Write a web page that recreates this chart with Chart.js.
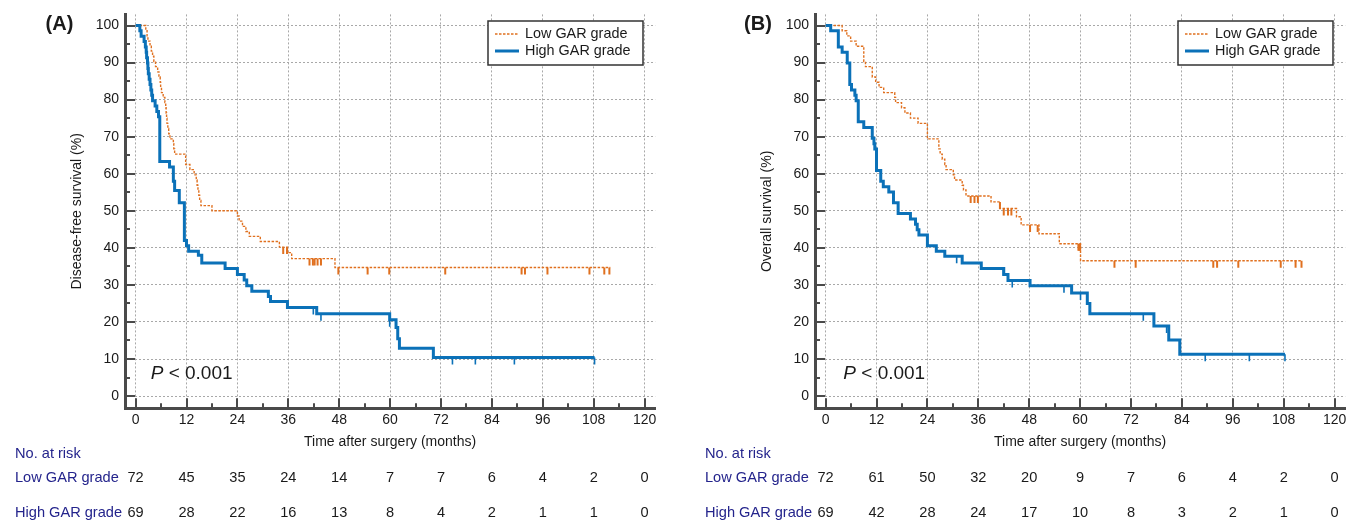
<!DOCTYPE html>
<html lang="en">
<head>
<meta charset="UTF-8" />
<title>GAR grade - survival curves</title>
<script src="https://cdn.jsdelivr.net/npm/chart.js@4.4.1/dist/chart.umd.min.js"></script>
<style>
  body { margin: 0; background: #fff; overflow: hidden; }
  canvas { position: absolute; top: 0; }
</style>
</head>
<body>
<canvas id="chartA" width="670" height="525" style="left:0"></canvas>
<canvas id="chartB" width="669" height="525" style="left:690px"></canvas>

<script>
// axis ticks and risk table columns
const monthTicks = [0, 6, 12, 18, 24, 30, 36, 42, 48, 54, 60, 66, 72, 78, 84, 90, 96, 102, 108, 114, 120];
const pctTicks = [0, 5, 10, 15, 20, 25, 30, 35, 40, 45, 50, 55, 60, 65, 70, 75, 80, 85, 90, 95, 100];
const riskTimes = [0, 12, 24, 36, 48, 60, 72, 84, 96, 108, 120];
const groupNames = ['Low GAR grade', 'High GAR grade'];

// (A) disease-free survival
const dfsLowTime = [0, 2.4, 2.7, 2.9, 3.4, 3.7, 4.0, 4.3, 4.7, 5.2, 5.5, 5.8, 5.9, 6.1, 6.5, 6.9, 7.1, 7.2, 7.3, 7.4, 7.6, 7.8, 8.1, 8.9, 9.0, 9.2, 11.8, 12.8, 13.8, 14.3, 14.5, 14.7, 14.9, 15.1, 15.4, 18.0, 24.0, 24.4, 25.2, 26.0, 26.8, 29.4, 33.9, 35.8, 36.8, 47.0, 111.9];
const dfsLowSurv = [100, 98.6, 97.2, 95.8, 94.4, 93.1, 91.7, 90.3, 88.9, 87.5, 86.1, 84.7, 83.3, 81.9, 80.6, 79.2, 77.8, 76.4, 75.0, 73.6, 72.2, 70.8, 69.4, 68.1, 66.7, 65.3, 62.5, 61.1, 59.7, 58.3, 56.9, 55.6, 54.2, 52.8, 51.4, 50.0, 48.6, 47.2, 45.8, 44.4, 43.1, 41.7, 40.2, 38.7, 37.1, 34.7, 34.7];
const dfsHighTime = [0, 1.0, 1.3, 2.0, 2.3, 2.5, 2.6, 2.8, 2.9, 3.0, 3.2, 3.4, 3.6, 3.8, 4.0, 4.6, 5.0, 5.4, 5.7, 8.0, 8.9, 9.2, 10.3, 11.5, 12.0, 12.5, 14.8, 15.6, 21.1, 24.0, 25.6, 26.2, 27.4, 31.3, 31.8, 35.8, 42.7, 59.9, 61.4, 61.8, 62.2, 70.2, 108.2];
const dfsHighSurv = [100, 98.6, 97.1, 95.7, 94.2, 92.8, 91.3, 89.9, 88.4, 87.0, 85.5, 84.1, 82.6, 81.2, 79.7, 78.3, 76.8, 75.4, 63.3, 61.8, 58.0, 55.5, 52.2, 42.0, 40.6, 39.1, 38.0, 35.9, 34.4, 32.8, 31.3, 29.8, 28.3, 26.9, 25.5, 23.9, 22.2, 20.6, 18.5, 15.5, 12.9, 10.4, 10.4];
const dfsLowCensTime = [34.8, 35.7, 41.0, 41.8, 42.2, 42.9, 43.7, 47.8, 54.7, 59.8, 73.0, 91.0, 91.8, 97.1, 107.0, 110.5, 111.7];
const dfsLowCensSurv = [40.2, 40.2, 37.1, 37.1, 37.1, 37.1, 37.1, 34.7, 34.7, 34.7, 34.7, 34.7, 34.7, 34.7, 34.7, 34.7, 34.7];
const dfsHighCensTime = [41.9, 43.7, 59.9, 74.7, 80.1, 89.3, 108.2];
const dfsHighCensSurv = [23.9, 22.2, 20.6, 10.4, 10.4, 10.4, 10.4];
const dfsRiskLow = [72, 45, 35, 24, 14, 7, 7, 6, 4, 2, 0];
const dfsRiskHigh = [69, 28, 22, 16, 13, 8, 4, 2, 1, 1, 0];

// (B) overall survival
const osLowTime = [0, 3.9, 5.0, 5.9, 7.2, 9.0, 9.4, 11.0, 11.8, 12.6, 13.7, 16.3, 16.5, 17.9, 18.7, 20.0, 21.8, 24.0, 26.7, 27.0, 27.5, 28.1, 28.4, 30.1, 30.4, 32.2, 32.5, 33.1, 39.0, 41.1, 45.0, 46.1, 50.3, 55.1, 60.1, 112.2];
const osLowSurv = [100, 98.6, 97.2, 95.8, 94.4, 90.3, 88.9, 86.1, 84.7, 83.3, 81.9, 80.6, 79.2, 77.8, 76.4, 75.0, 73.6, 69.4, 66.7, 65.3, 63.9, 62.5, 61.1, 59.7, 58.3, 56.9, 55.6, 54.0, 52.4, 50.6, 48.4, 46.2, 43.8, 41.1, 36.5, 36.5];
const osHighTime = [0, 1.2, 3.0, 3.9, 5.1, 5.7, 6.1, 6.9, 7.2, 7.7, 9.0, 11.0, 11.4, 11.6, 12.0, 13.0, 13.6, 14.9, 16.0, 17.1, 20.0, 21.2, 21.6, 22.0, 24.0, 26.1, 28.1, 32.2, 36.7, 42.0, 43.0, 48.2, 58.0, 61.7, 62.3, 77.4, 80.9, 83.5, 108.3];
const osHighSurv = [100, 98.6, 94.2, 92.8, 89.9, 84.1, 82.6, 81.2, 79.7, 74.0, 72.5, 69.6, 68.1, 66.7, 60.9, 58.0, 56.5, 55.1, 52.2, 49.3, 47.8, 46.4, 44.9, 43.5, 40.6, 39.1, 37.7, 35.9, 34.4, 32.8, 31.2, 29.8, 27.8, 25.0, 22.2, 18.9, 15.1, 11.3, 11.3];
const osLowCensTime = [34.2, 35.1, 35.9, 41.1, 42.0, 43.0, 43.8, 48.2, 50.0, 59.6, 59.8, 60.0, 68.1, 73.1, 91.4, 92.3, 97.3, 107.3, 110.8, 112.2];
const osLowCensSurv = [54.0, 54.0, 54.0, 52.4, 50.6, 50.6, 50.6, 46.2, 46.2, 41.1, 41.1, 41.1, 36.5, 36.5, 36.5, 36.5, 36.5, 36.5, 36.5, 36.5];
const osHighCensTime = [30.9, 41.9, 44.0, 56.2, 60.1, 74.9, 80.4, 89.5, 99.9, 108.3];
const osHighCensSurv = [37.7, 34.4, 31.2, 29.8, 27.8, 22.2, 18.9, 11.3, 11.3, 11.3];
const osRiskLow = [72, 61, 50, 32, 20, 9, 7, 6, 4, 2, 0];
const osRiskHigh = [69, 42, 28, 24, 17, 10, 8, 3, 2, 1, 0];

const FONT = "'Liberation Sans', Arial, Helvetica, sans-serif";
const ORANGE = '#e0701f';
const BLUE = '#0b71b8';
const AXIS = '#4a4a4a';
const GRID = '#a8a8a8';
const TXT = '#1a1a1a';
const NAVY = '#24248c';

const pts = (t, s) => t.map((v, i) => ({ x: v, y: s[i] }));

function kmPanel(canvasId, p) {
    // ticks, legend box, panel tag, p value and the at-risk table
    const extras = {
        id: 'kmExtras',
        afterDraw(chart) {
            const { ctx, chartArea: a, scales: { x, y } } = chart;
            ctx.save();

            ctx.strokeStyle = AXIS;
            ctx.lineWidth = 2;
            ctx.beginPath();
            monthTicks.forEach(v => {
                const px = Math.round(x.getPixelForValue(v));
                ctx.moveTo(px, a.bottom);
                ctx.lineTo(px, a.bottom - (v % 12 === 0 ? 10 : 5));
            });
            pctTicks.forEach(v => {
                const py = Math.round(y.getPixelForValue(v));
                ctx.moveTo(a.left, py);
                ctx.lineTo(a.left + (v % 10 === 0 ? 10 : 5), py);
            });
            ctx.stroke();

            // legend
            const dsLow = chart.data.datasets.find(d => d.label === groupNames[0]);
            const dsHigh = chart.data.datasets.find(d => d.label === groupNames[1]);
            ctx.fillStyle = '#fff';
            ctx.fillRect(488, 21, 155, 44);
            ctx.strokeStyle = '#333';
            ctx.lineWidth = 1.5;
            ctx.strokeRect(488, 21, 155, 44);
            ctx.font = `14.4px ${FONT}`;
            ctx.textBaseline = 'middle';
            ctx.textAlign = 'left';
            [[dsLow, 34], [dsHigh, 51]].forEach(([ds, ly]) => {
                ctx.beginPath();
                ctx.strokeStyle = ds.borderColor;
                ctx.lineWidth = ds.borderWidth;
                ctx.setLineDash(ds.borderDash || []);
                ctx.moveTo(495, ly);
                ctx.lineTo(519, ly);
                ctx.stroke();
                ctx.setLineDash([]);
                ctx.fillStyle = TXT;
                ctx.fillText(ds.label, 525, ly);
            });

            // panel tag
            ctx.font = `bold 20px ${FONT}`;
            ctx.textAlign = 'center';
            ctx.fillStyle = TXT;
            ctx.fillText(p.tag, p.tagX, 24);

            // p value
            ctx.textAlign = 'left';
            ctx.textBaseline = 'alphabetic';
            const px0 = a.left + p.pX;
            const pBase = a.bottom - 29;
            ctx.font = `italic 19px ${FONT}`;
            ctx.fillText('P', px0, pBase);
            const wP = ctx.measureText('P ').width;
            ctx.font = `19px ${FONT}`;
            ctx.fillText('< 0.001', px0 + wP, pBase);

            // number at risk
            ctx.font = `14.6px ${FONT}`;
            ctx.textBaseline = 'middle';
            ctx.fillStyle = NAVY;
            ctx.fillText('No. at risk', 15, 454);
            ctx.fillText(groupNames[0], 15, 478);
            ctx.fillText(groupNames[1], 15, 513);
            ctx.fillStyle = TXT;
            ctx.textAlign = 'center';
            riskTimes.forEach((t, i) => {
                const px = x.getPixelForValue(t);
                ctx.fillText(String(p.riskLow[i]), px, 478);
                ctx.fillText(String(p.riskHigh[i]), px, 513);
            });
            ctx.restore();
        }
    };

    const canvas = document.getElementById(canvasId);
    return new Chart(canvas, {
        type: 'line',
        data: {
            datasets: [
                {
                    label: groupNames[1] + ' censored',
                    data: pts(p.highCens[0], p.highCens[1]),
                    showLine: false,
                    pointStyle: 'dash',
                    pointRotation: 90,
                    pointRadius: 7,
                    borderColor: BLUE,
                    pointBorderColor: BLUE,
                    pointBorderWidth: 1.6
                },
                {
                    label: groupNames[0] + ' censored',
                    data: pts(p.lowCens[0], p.lowCens[1]),
                    showLine: false,
                    pointStyle: 'dash',
                    pointRotation: 90,
                    pointRadius: 7,
                    borderColor: ORANGE,
                    pointBorderColor: ORANGE,
                    pointBorderWidth: 2
                },
                {
                    label: groupNames[1],
                    data: pts(p.high[0], p.high[1]),
                    stepped: 'before',
                    borderColor: BLUE,
                    borderWidth: 3,
                    pointRadius: 0,
                    fill: false
                },
                {
                    label: groupNames[0],
                    data: pts(p.low[0], p.low[1]),
                    stepped: 'before',
                    borderColor: ORANGE,
                    borderWidth: 1.4,
                    borderDash: [2.5, 1.5],
                    pointRadius: 0,
                    fill: false
                }
            ]
        },
        options: {
            responsive: false,
            animation: false,
            events: [],
            layout: { padding: { left: 65, right: canvas.width - 655.2, top: 9, bottom: 70.7 } },
            plugins: { legend: { display: false }, tooltip: { enabled: false } },
            scales: {
                x: {
                    type: 'linear',
                    min: -2.5,
                    max: 122.5,
                    afterBuildTicks: s => { s.ticks = monthTicks.map(v => ({ value: v })); },
                    afterFit: s => { s.height = 46; },
                    ticks: {
                        autoSkip: false,
                        maxRotation: 0,
                        padding: 3,
                        color: TXT,
                        font: { family: FONT, size: 14 },
                        callback: v => (v % 12 === 0 ? v : '')
                    },
                    grid: {
                        drawTicks: false,
                        lineWidth: 1,
                        color: c => (c.tick && c.tick.value % 12 === 0 ? GRID : 'rgba(0,0,0,0)')
                    },
                    border: { display: true, color: AXIS, width: 3, dash: [2, 2] },
                    title: {
                        display: true,
                        text: 'Time after surgery (months)',
                        color: TXT,
                        font: { family: FONT, size: 14 },
                        padding: { top: 4, bottom: 4 }
                    }
                },
                y: {
                    type: 'linear',
                    min: -3.3,
                    max: 103,
                    afterBuildTicks: s => { s.ticks = pctTicks.map(v => ({ value: v })); },
                    afterFit: s => { s.width = 60; },
                    ticks: {
                        autoSkip: false,
                        padding: 6,
                        color: TXT,
                        font: { family: FONT, size: 14 },
                        callback: v => (v % 10 === 0 ? v : '')
                    },
                    grid: {
                        drawTicks: false,
                        lineWidth: 1,
                        color: c => (c.tick && c.tick.value % 10 === 0 ? GRID : 'rgba(0,0,0,0)')
                    },
                    border: { display: true, color: AXIS, width: 3, dash: [2, 2] },
                    title: {
                        display: true,
                        text: p.yTitle,
                        color: TXT,
                        font: { family: FONT, size: 14 },
                        padding: { top: 4, bottom: 4 }
                    }
                }
            }
        },
        plugins: [extras]
    });
}

kmPanel('chartA', {
    tag: '(A)', tagX: 59.5, pX: 25.7,
    yTitle: 'Disease-free survival (%)',
    low: [dfsLowTime, dfsLowSurv], high: [dfsHighTime, dfsHighSurv],
    lowCens: [dfsLowCensTime, dfsLowCensSurv], highCens: [dfsHighCensTime, dfsHighCensSurv],
    riskLow: dfsRiskLow, riskHigh: dfsRiskHigh
});

kmPanel('chartB', {
    tag: '(B)', tagX: 68, pX: 28.3,
    yTitle: 'Overall survival (%)',
    low: [osLowTime, osLowSurv], high: [osHighTime, osHighSurv],
    lowCens: [osLowCensTime, osLowCensSurv], highCens: [osHighCensTime, osHighCensSurv],
    riskLow: osRiskLow, riskHigh: osRiskHigh
});
</script>
</body>
</html>
